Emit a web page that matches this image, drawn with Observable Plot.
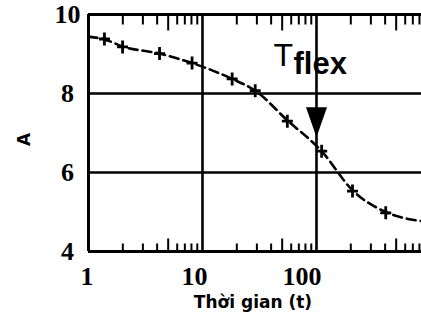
<!DOCTYPE html>
<html>
<head>
<meta charset="utf-8">
<script src="https://cdn.jsdelivr.net/npm/d3@7"></script>
<script src="https://cdn.jsdelivr.net/npm/@observablehq/plot@0.6"></script>
<style>
  html, body { margin: 0; padding: 0; background: #fff; }
  #chart svg { display: block; }
</style>
</head>
<body>
<div id="chart"></div>
<script>
// ---- data ----
const tMarkers = [1.38, 1.99, 4.2, 8.1, 18.2, 29, 55.5, 111, 207, 405];
const aMarkers = [9.38, 9.18, 9.01, 8.77, 8.37, 8.07, 7.30, 6.54, 5.53, 4.98];
const tCurve = [1, 1.38, 1.99, 4.2, 8.1, 18.2, 29, 55.5, 111, 207, 405, 600, 834];
const aCurve = [9.44, 9.37, 9.19, 9.01, 8.77, 8.37, 8.07, 7.32, 6.54, 5.55, 5.0, 4.84, 4.77];
const tTickLabels = [1, 10, 100];
const aTickLabels = [4, 6, 8, 10];
const tGrid = [10, 100];
const aGrid = [6, 8];
const tMinorShort = [2, 3, 4, 6, 7, 8, 9, 20, 30, 40, 60, 70, 80, 90, 200, 300, 400, 600, 700, 800];
const tMinorLong = [5, 50, 500];
const tFlex = [100];
const flexLabelA = [8];
const arrowTipA = [6.89];
const xLabel = "Thời gian (t)";
const yLabel = "A";

const markers = tMarkers.map((t, i) => ({t, a: aMarkers[i]}));
const curve = tCurve.map((t, i) => ({t, a: aCurve[i]}));

const plusSymbol = {draw(ctx) { ctx.moveTo(-5.5, 0); ctx.lineTo(5.5, 0); ctx.moveTo(0, -6.5); ctx.lineTo(0, 6.5); }};
const tickUp = (l) => ({draw(ctx) { ctx.moveTo(0, 0); ctx.lineTo(0, -l); }});
const tickDown = (l) => ({draw(ctx) { ctx.moveTo(0, 0); ctx.lineTo(0, l); }});
const arrowHead = {draw(ctx) { ctx.moveTo(0, 0); ctx.lineTo(-10.5, -30); ctx.lineTo(10.5, -30); ctx.closePath(); }};

const serif = "'Liberation Serif', 'Times New Roman', serif";
const sans = "'DejaVu Sans', Verdana, sans-serif";
const arial = "'Liberation Sans', Arial, sans-serif";

const chart = Plot.plot({
  width: 421,
  height: 322,
  marginLeft: 88,
  marginRight: 0,
  marginTop: 14,
  marginBottom: 71,
  style: {background: "white"},
  x: {type: "log", domain: [1, 834], axis: null},
  y: {domain: [4, 10], axis: null},
  marks: [
    // grid
    Plot.ruleX(tGrid, {x: d => d, stroke: "black", strokeWidth: 2.6}),
    Plot.ruleY(aGrid, {y: d => d, stroke: "black", strokeWidth: 2.6}),
    // frame (left, top, bottom)
    Plot.ruleX([1], {x: d => d, stroke: "black", strokeWidth: 3}),
    Plot.ruleY([4, 10], {y: d => d, stroke: "black", strokeWidth: 3}),
    // minor ticks
    Plot.dot(tMinorShort, {x: d => d, y: 4, symbol: tickUp(8), fill: "none", stroke: "black", strokeWidth: 2}),
    Plot.dot(tMinorLong, {x: d => d, y: 4, symbol: tickUp(13), fill: "none", stroke: "black", strokeWidth: 2}),
    Plot.dot(tMinorShort, {x: d => d, y: 10, symbol: tickDown(10), fill: "none", stroke: "black", strokeWidth: 2}),
    Plot.dot(tMinorLong, {x: d => d, y: 10, symbol: tickDown(16), fill: "none", stroke: "black", strokeWidth: 2}),
    // dashed curve
    Plot.line(curve, {x: "t", y: "a", curve: "monotone-x", stroke: "black", strokeWidth: 2.6, strokeDasharray: "9,5"}),
    // markers
    Plot.dot(markers, {x: "t", y: "a", symbol: plusSymbol, fill: "none", stroke: "black", strokeWidth: 2.8}),
    // arrow head
    Plot.dot(tFlex, {x: d => d, y: arrowTipA[0], symbol: arrowHead, fill: "black", stroke: "none"}),
    // T_flex label
    Plot.text(tFlex, {x: d => d, y: flexLabelA[0], text: () => "T", textAnchor: "start", lineAnchor: "bottom", dx: -43, dy: -28,
      fontFamily: arial, fontSize: 32, fill: "black"}),
    Plot.text(tFlex, {x: d => d, y: flexLabelA[0], text: () => "flex", textAnchor: "start", lineAnchor: "bottom", dx: -23, dy: -20,
      fontFamily: arial, fontWeight: "bold", fontSize: 31, fill: "black"}),
    // tick labels
    Plot.text(tTickLabels, {x: d => d, y: 4, text: d => String(d), textAnchor: "end", dx: 5, dy: 25,
      fontFamily: serif, fontWeight: "bold", fontSize: 26, fill: "black"}),
    Plot.text(aTickLabels, {x: 1, y: d => d, text: d => String(d), textAnchor: "middle", dx: -21, dy: 0,
      fontFamily: serif, fontWeight: "bold", fontSize: 26, fill: "black"}),
    // axis titles
    Plot.text([xLabel], {frameAnchor: "bottom", text: d => d, dx: -2, dy: 56,
      fontFamily: sans, fontWeight: "bold", fontSize: 17, fill: "black"}),
    Plot.text([yLabel], {frameAnchor: "left", text: d => d, rotate: -90, dx: -64, dy: 13,
      fontFamily: sans, fontWeight: "bold", fontSize: 17, fill: "black"})
  ]
});
document.getElementById("chart").append(chart);
</script>
</body>
</html>
